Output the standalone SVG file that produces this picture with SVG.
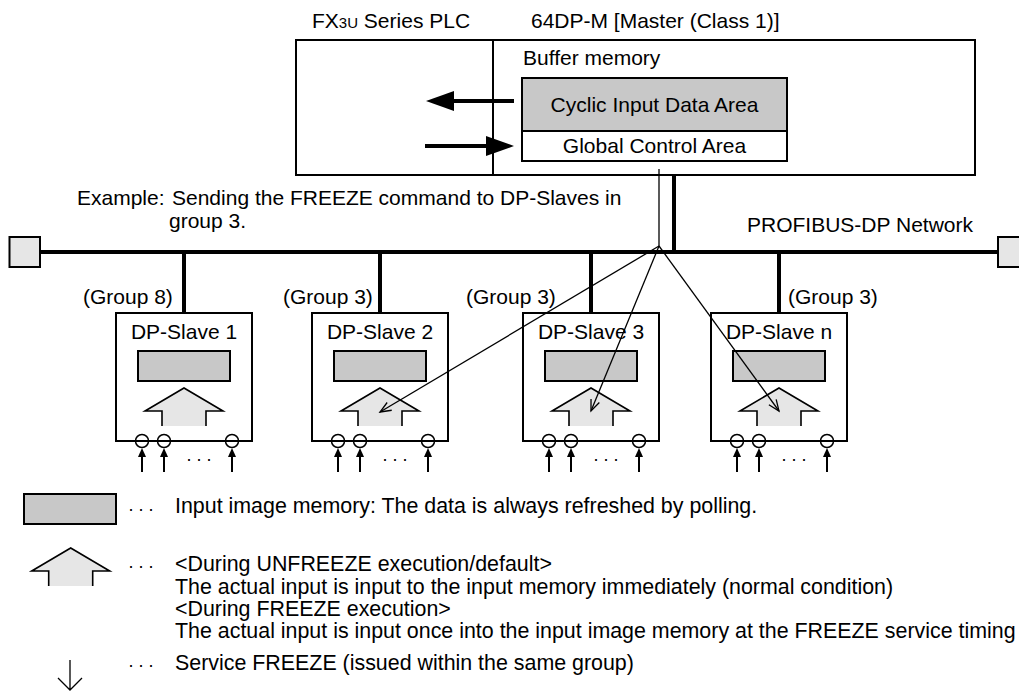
<svg xmlns="http://www.w3.org/2000/svg" width="1019" height="691" viewBox="0 0 1019 691">
<defs>
<style>
text{font-family:"Liberation Sans",Arial,sans-serif;font-size:21px;fill:#000}
.lg{font-size:21.4px}
.mid{text-anchor:middle}
.box{fill:#fff;stroke:#000;stroke-width:2}
.mem{fill:#c8c8c8;stroke:#000;stroke-width:2}
.term{fill:#e6e6e6;stroke:#000;stroke-width:2}
.upf{fill:#e6e6e6;stroke:none}
.upo{fill:none;stroke:#000;stroke-width:1.6;stroke-linejoin:miter}
.thick{stroke:#000;stroke-width:4;fill:none}
.thin{stroke:#000;stroke-width:1.3;fill:none}
.dots{font-size:18px}
.circ{fill:none;stroke:#000;stroke-width:1.5}
.inl{stroke:#000;stroke-width:2}
</style>
<marker id="open" markerUnits="userSpaceOnUse" markerWidth="14" markerHeight="12" refX="12" refY="5" orient="auto" viewBox="0 0 14 10">
<path d="M1,0.5 L12,5 L1,9.5" fill="none" stroke="#000" stroke-width="1.3"/>
</marker>
<g id="uparrow">
<path class="upf" d="M-22,38 V23 H-39 L0,0 L39,23 H22 V38 Z"/>
<path class="upo" d="M-22,38 V23 H-39 L0,0 L39,23 H22 V38"/>
</g>
<g id="inarrow">
<line class="inl" x1="0" y1="455" x2="0" y2="472"/>
<polygon points="0,448 -4,457 4,457" fill="#000"/>
</g>
<g id="slaveBody">
<rect class="box" x="-68" y="313" width="136" height="128"/>
<rect class="mem" x="-46" y="351" width="92" height="30"/>
<use href="#uparrow" transform="translate(0,388)"/>
<circle class="circ" cx="-42" cy="441" r="6.5"/>
<circle class="circ" cx="-20" cy="441" r="6.5"/>
<circle class="circ" cx="48" cy="441" r="6.5"/>
<use href="#inarrow" x="-42"/>
<use href="#inarrow" x="-20"/>
<use href="#inarrow" x="48"/>
<text class="dots" x="2.5" y="461">. . .</text>
</g>
</defs>

<g id="plc">
<text x="312" y="28">FX<tspan font-size="15">3U</tspan> Series PLC</text>
<text x="531" y="28">64DP-M [Master (Class 1)]</text>
<rect class="box" x="296" y="40" width="679" height="135"/>
<line class="thin" x1="493" y1="40" x2="493" y2="175" style="stroke-width:2"/>
<text x="523" y="65">Buffer memory</text>
<rect class="mem" x="522" y="78" width="265" height="53"/>
<rect class="box" x="522" y="131" width="265" height="30"/>
<text class="mid" x="654.5" y="112">Cyclic Input Data Area</text>
<text class="mid" x="654.5" y="153">Global Control Area</text>
<line class="thick" x1="514" y1="101" x2="450" y2="101"/>
<polygon points="426,101 454,91 454,111" fill="#000"/>
<line class="thick" x1="425" y1="146" x2="490" y2="146"/>
<polygon points="514,146 486,136 486,156" fill="#000"/>
</g>

<g id="term-left"><rect class="term" x="9.5" y="237" width="30.5" height="30"/></g>
<g id="term-right"><rect class="term" x="998" y="237" width="30" height="30"/></g>

<g id="labels">
<text x="77" y="205">Example:</text>
<text x="172" y="205">Sending the FREEZE command to DP-Slaves in</text>
<text x="169" y="228">group 3.</text>
<text x="747" y="232">PROFIBUS-DP Network</text>
</g>

<g id="slave1">
<use href="#slaveBody" transform="translate(184,0)"/>
<text class="mid" x="184" y="339">DP-Slave 1</text>
<text x="83" y="304">(Group 8)</text>
</g>
<g id="slave2">
<use href="#slaveBody" transform="translate(380,0)"/>
<text class="mid" x="380" y="339">DP-Slave 2</text>
<text x="283" y="304">(Group 3)</text>
</g>
<g id="slave3">
<use href="#slaveBody" transform="translate(591,0)"/>
<text class="mid" x="591" y="339">DP-Slave 3</text>
<text x="466" y="304">(Group 3)</text>
</g>
<g id="slaven">
<use href="#slaveBody" transform="translate(779,0)"/>
<text class="mid" x="779" y="339">DP-Slave n</text>
<text x="788" y="304">(Group 3)</text>
</g>

<g id="connectors">
<line class="thick" x1="40" y1="252" x2="998" y2="252"/>
<line class="thick" x1="184" y1="252" x2="184" y2="313"/>
<line class="thick" x1="380" y1="252" x2="380" y2="313"/>
<line class="thick" x1="591" y1="252" x2="591" y2="313"/>
<line class="thick" x1="779" y1="252" x2="779" y2="313"/>
<line class="thick" x1="674" y1="175" x2="674" y2="252"/>
<line class="thin" x1="659" y1="169" x2="659" y2="246"/>
<line class="thin" x1="659" y1="246" x2="380" y2="412" marker-end="url(#open)"/>
<line class="thin" x1="659" y1="246" x2="591" y2="411" marker-end="url(#open)"/>
<line class="thin" x1="659" y1="246" x2="779" y2="411" marker-end="url(#open)"/>
</g>

<g id="legend">
<rect class="mem" x="24" y="494" width="92" height="30"/>
<text class="dots" x="128.5" y="510.5">. . .</text>
<text class="lg" x="175" y="513">Input image memory: The data is always refreshed by polling.</text>
<use href="#uparrow" transform="translate(70.7,548)"/>
<text class="dots" x="128.5" y="568">. . .</text>
<text class="lg" x="175" y="571">&lt;During UNFREEZE execution/default&gt;</text>
<text class="lg" x="175" y="594">The actual input is input to the input memory immediately (normal condition)</text>
<text class="lg" x="175" y="616">&lt;During FREEZE execution&gt;</text>
<text class="lg" x="175" y="638">The actual input is input once into the input image memory at the FREEZE service timing</text>
<path class="thin" d="M70,660 V690 M58,678 L70,690 L82,678"/>
<text class="dots" x="128.5" y="667">. . .</text>
<text class="lg" x="175" y="670">Service FREEZE (issued within the same group)</text>
</g>
</svg>
